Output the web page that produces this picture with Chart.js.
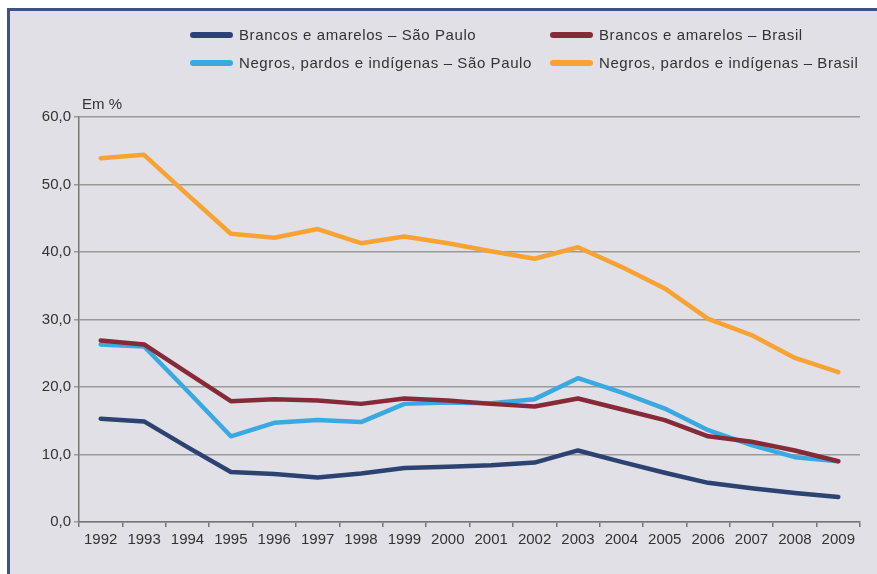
<!DOCTYPE html>
<html>
<head>
<meta charset="utf-8">
<script src="https://cdn.jsdelivr.net/npm/chart.js@4"></script>
<style>
  html, body { margin: 0; padding: 0; background: #fff; }
  body { width: 877px; height: 574px; position: relative; overflow: hidden; font-family: 'Liberation Sans', Arial, sans-serif; }
  .frame { position: absolute; left: 7px; top: 8px; width: 900px; height: 600px; background: #e0e0e6; border-left: 3px solid #3b5482; border-top: 3px solid #3b5482; }
  #chart { position: absolute; left: 0; top: 0; }
  .legend-item { position: absolute; font-size: 15px; color: #333; letter-spacing: 0.6px; white-space: nowrap; line-height: 18px; }
  .swatch { position: absolute; width: 43px; height: 6px; border-radius: 3px; }
  .unit { position: absolute; left: 82px; top: 95px; font-size: 15px; color: #333; }
</style>
</head>
<body>
<div class="frame"></div>
<canvas id="chart" width="877" height="574"></canvas>
<div id="legend"></div>
<div class="unit">Em %</div>
<script>
// Data
const years = ['1992','1993','1994','1995','1996','1997','1998','1999','2000','2001','2002','2003','2004','2005','2006','2007','2008','2009'];
const brancosSP = [15.3, 14.9, 11.1, 7.4, 7.1, 6.6, 7.2, 8.0, 8.2, 8.4, 8.8, 10.6, 8.9, 7.3, 5.8, 5.0, 4.3, 3.7];
const brancosBR = [26.9, 26.3, 22.1, 17.9, 18.2, 18.0, 17.5, 18.3, 18.0, 17.5, 17.1, 18.3, 16.7, 15.1, 12.7, 11.9, 10.6, 9.0];
const negrosSP = [26.3, 26.0, 19.4, 12.7, 14.7, 15.1, 14.8, 17.5, 17.7, 17.6, 18.2, 21.3, 19.2, 16.8, 13.6, 11.4, 9.6, 9.0];
const negrosBR = [53.9, 54.4, 48.5, 42.7, 42.1, 43.4, 41.3, 42.3, 41.3, 40.1, 39.0, 40.7, 37.8, 34.6, 30.1, 27.7, 24.3, 22.2];
const yTicks = [0, 10, 20, 30, 40, 50, 60];

const series = [
  {label: 'Brancos e amarelos – São Paulo', data: brancosSP, color: '#2c4372', lx: 190, ly: 35},
  {label: 'Brancos e amarelos – Brasil', data: brancosBR, color: '#872a37', lx: 550, ly: 35},
  {label: 'Negros, pardos e indígenas – São Paulo', data: negrosSP, color: '#3ba9e1', lx: 190, ly: 63},
  {label: 'Negros, pardos e indígenas – Brasil', data: negrosBR, color: '#f7a233', lx: 550, ly: 63}
];

// -------------------- Legend (HTML) --------------------
const legend = document.getElementById('legend');
series.forEach(s => {
  const sw = document.createElement('div');
  sw.className = 'swatch';
  sw.style.left = s.lx + 'px';
  sw.style.top = (s.ly - 3) + 'px';
  sw.style.background = s.color;
  legend.appendChild(sw);
  const tx = document.createElement('div');
  tx.className = 'legend-item';
  tx.style.left = (s.lx + 49) + 'px';
  tx.style.top = (s.ly - 9) + 'px';
  tx.textContent = s.label;
  legend.appendChild(tx);
});

// -------------------- Chart --------------------
Chart.defaults.font.family = "'Liberation Sans', Arial, sans-serif";
Chart.defaults.font.size = 15;
Chart.defaults.color = '#333';

const ctx = document.getElementById('chart').getContext('2d');
new Chart(ctx, {
  type: 'line',
  data: {
    labels: years,
    datasets: series.map(s => ({
      label: s.label,
      data: s.data,
      borderColor: s.color,
      backgroundColor: s.color,
      borderWidth: 4.5,
      pointRadius: 0,
      tension: 0,
      borderJoinStyle: 'round',
      borderCapStyle: 'round',
      fill: false
    }))
  },
  options: {
    responsive: false,
    animation: false,
    layout: { padding: { top: 117, right: 17, left: 0, bottom: 0 } },
    plugins: { legend: { display: false }, tooltip: { enabled: false } },
    scales: {
      x: {
        offset: true,
        grid: { offset: true, drawOnChartArea: false, drawTicks: true, tickLength: 5, color: '#777', lineWidth: 1.5 },
        border: { color: '#777', width: 1.5 },
        ticks: { autoSkip: false, maxRotation: 0, padding: 4 },
        afterFit: scale => { scale.height = 52; }
      },
      y: {
        min: 0,
        max: 60,
        afterBuildTicks: scale => { scale.ticks = yTicks.map(v => ({value: v})); },
        grid: { color: '#9a9a9a', lineWidth: 1.5, tickLength: 5 },
        border: { color: '#777', width: 1.5 },
        ticks: { padding: 3, callback: v => v.toFixed(1).replace('.', ',') },
        afterFit: scale => { scale.width = 79; }
      }
    }
  }
});
</script>
</body>
</html>
